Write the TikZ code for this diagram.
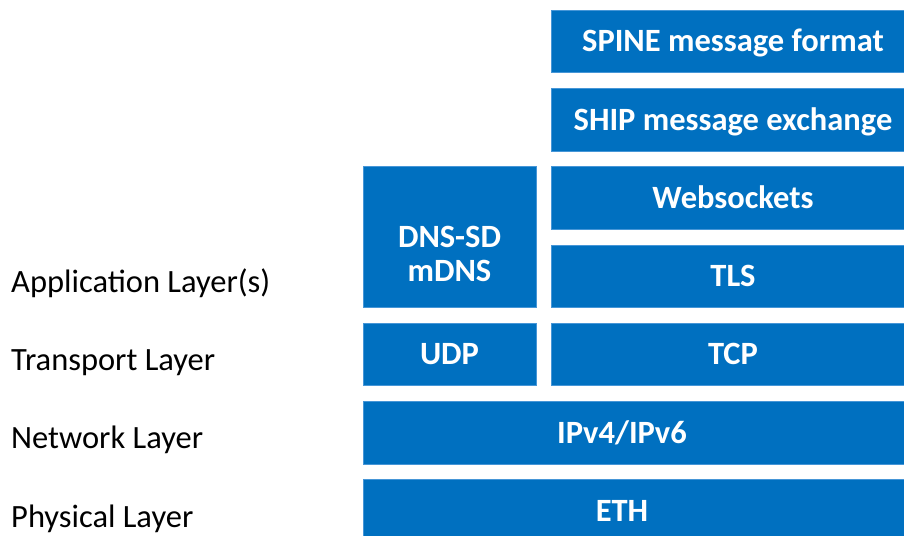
\documentclass[tikz,border=0pt]{standalone}
\usepackage{fontspec}
\setmainfont{Carlito}
\definecolor{boxblue}{RGB}{0,112,192}
\definecolor{boxedge}{RGB}{70,150,215}
\begin{document}
\begin{tikzpicture}[x=1pt,y=-1pt,
  basebox/.style={fill=boxblue, draw=boxedge, line width=0.8pt, anchor=north west,
    inner sep=0pt, outer sep=0pt, text=white, font=\fontsize{32.5}{34}\selectfont\bfseries, align=center},
  box/.style={basebox, text height=21pt, text depth=0pt},
  layerlabel/.style={anchor=base west, inner sep=0pt, font=\fontsize{32.5}{38}\selectfont}]
\useasboundingbox (0,0) rectangle (904,535);
\clip (0,0) rectangle (904,535);
\node[box, minimum width=364pt, minimum height=62pt] (spine) at (551,10) {SPINE message format};
\node[box, minimum width=364pt, minimum height=63pt] (ship) at (551,88) {SHIP message exchange};
\node[box, minimum width=364pt, minimum height=63pt] (ws) at (551,166) {Websockets};
\node[box, minimum width=364pt, minimum height=62pt] (tls) at (551,245) {TLS};
\node[basebox, minimum width=173pt, minimum height=141pt] (dns) at (363,166) {\rule{0pt}{56pt}DNS-SD\\mDNS};
\node[box, minimum width=173pt, minimum height=62pt] (udp) at (363,323) {UDP};
\node[box, minimum width=364pt, minimum height=62pt] (tcp) at (551,323) {TCP};
\node[box, minimum width=552pt, minimum height=63pt] (ip) at (363,401) {\hspace*{-34pt}IPv4/IPv6};
\node[box, minimum width=552pt, minimum height=63pt] (eth) at (363,479) {\hspace*{-34pt}ETH};
\node[layerlabel] (app) at (11,292) {Application Layer(s)};
\node[layerlabel] (trans) at (11,370) {Transport Layer};
\node[layerlabel] (net) at (11,448) {Network Layer};
\node[layerlabel] (phys) at (11,527) {Physical Layer};
\end{tikzpicture}
\end{document}
